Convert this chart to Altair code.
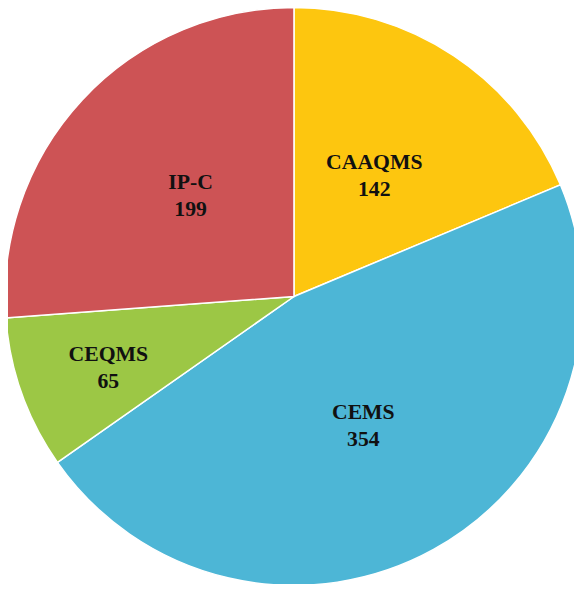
import altair as alt
import pandas as pd

categories = ["CAAQMS", "CEMS", "CEQMS", "IP-C"]
values = [142, 354, 65, 199]
colors = ["#FDC60F", "#4DB6D6", "#9CC745", "#CD5355"]

df = pd.DataFrame({"cat": categories, "value": values, "idx": list(range(len(categories)))})

base = alt.Chart(df).encode(
    theta=alt.Theta("value:Q", stack=True),
    order=alt.Order("idx:Q"),
)

pie = base.mark_arc(radius=293, stroke="#FFFFFF", strokeWidth=1.5).encode(
    color=alt.Color("cat:N", scale=alt.Scale(domain=categories, range=colors), legend=None)
)

label_style = {
    "CAAQMS": dict(radius=138, dx=5, dy=-21),
    "CEMS": dict(radius=158, dx=-6, dy=-21),
    "CEQMS": dict(radius=201, dx=1, dy=-9),
    "IP-C": dict(radius=154, dx=8, dy=-11),
}

layers = [pie]
for c in categories:
    s = label_style[c]
    t = base.transform_calculate(
        lab=f"datum.cat == '{c}' ? datum.cat + '\\n' + datum.value : ''"
    ).mark_text(
        radius=s["radius"], dx=s["dx"], dy=s["dy"],
        font="Liberation Serif", fontSize=22, fontWeight="bold",
        color="#111111", lineBreak="\n", lineHeight=27,
        align="center", baseline="middle",
    ).encode(text="lab:N")
    layers.append(t)

chart = alt.layer(*layers).properties(
    width=568, height=575,
    padding={"left": 6, "top": 1, "right": 0, "bottom": 0},
    autosize=alt.AutoSizeParams(type="none"),
).configure_view(stroke=None)

chart.save("out.html", embed_options={"renderer": "svg", "actions": False})
